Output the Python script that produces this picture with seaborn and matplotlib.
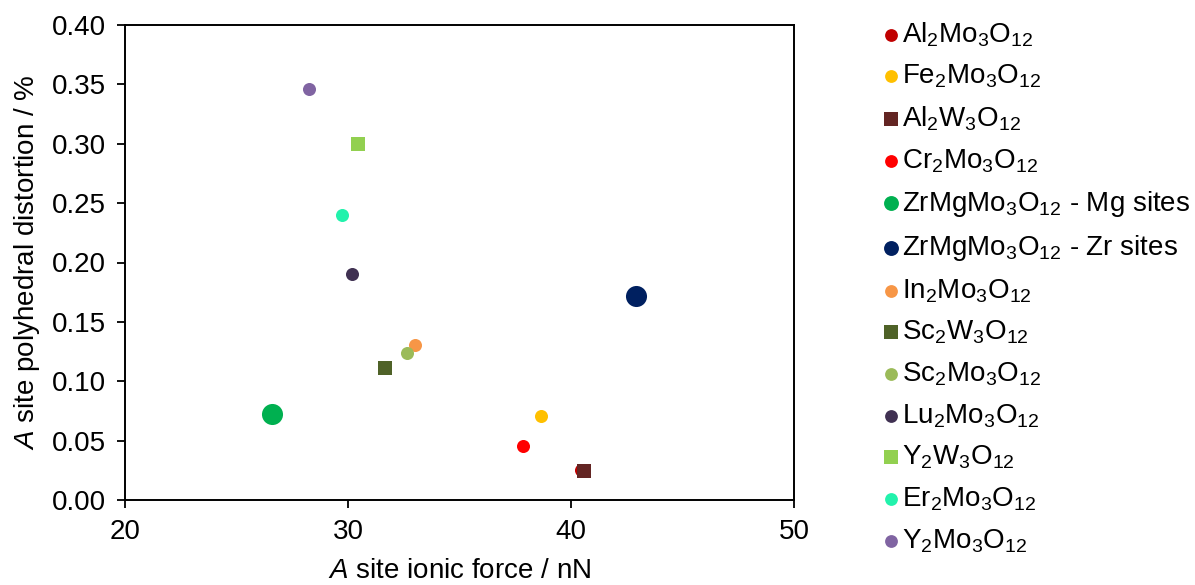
import matplotlib
matplotlib.use("Agg")
import matplotlib.pyplot as plt
import seaborn as sns
import pandas as pd

# Framework compounds and their A-site values
compounds = [
    "Al$_2$Mo$_3$O$_{12}$",
    "Fe$_2$Mo$_3$O$_{12}$",
    "Al$_2$W$_3$O$_{12}$",
    "Cr$_2$Mo$_3$O$_{12}$",
    "ZrMgMo$_3$O$_{12}$ - Mg sites",
    "ZrMgMo$_3$O$_{12}$ - Zr sites",
    "In$_2$Mo$_3$O$_{12}$",
    "Sc$_2$W$_3$O$_{12}$",
    "Sc$_2$Mo$_3$O$_{12}$",
    "Lu$_2$Mo$_3$O$_{12}$",
    "Y$_2$W$_3$O$_{12}$",
    "Er$_2$Mo$_3$O$_{12}$",
    "Y$_2$Mo$_3$O$_{12}$",
]
ionic_force = [40.45, 38.65, 40.57, 37.85, 26.6, 42.9, 33.0, 31.66, 32.65, 30.18, 30.45, 29.73, 28.25]
distortion = [0.0253, 0.0707, 0.0247, 0.0455, 0.0724, 0.1718, 0.1305, 0.111, 0.124, 0.190, 0.300, 0.240, 0.346]

colors = ["#C00000", "#FFC000", "#632523", "#FF0000", "#00B050", "#002060",
          "#F79646", "#4F6228", "#9BBB59", "#403152", "#92D050", "#22F2AC", "#8064A2"]
markers = ["o", "o", "s", "o", "o", "o", "o", "s", "o", "o", "s", "o", "o"]
sizes = [88, 88, 100, 88, 230, 230, 88, 100, 88, 88, 100, 88, 88]
legend_sizes = [85, 85, 100, 85, 115, 115, 85, 100, 85, 85, 100, 85, 85]

df = pd.DataFrame({"compound": compounds, "force": ionic_force, "distortion": distortion})

sns.set_style("white")
plt.rcParams["font.family"] = ["Liberation Sans", "DejaVu Sans"]
plt.rcParams["mathtext.fontset"] = "custom"
plt.rcParams["mathtext.rm"] = "Liberation Sans"
plt.rcParams["mathtext.it"] = "Liberation Sans:italic"
plt.rcParams["mathtext.default"] = "regular"
plt.rcParams["text.color"] = "black"
plt.rcParams["axes.labelcolor"] = "black"
plt.rcParams["xtick.color"] = "black"
plt.rcParams["ytick.color"] = "black"

fig = plt.figure(figsize=(11.95, 5.85), dpi=100)
ax = fig.add_axes([125 / 1195, 1 - 500 / 585, 669 / 1195, 475 / 585])

for i, row in df.iterrows():
    sns.scatterplot(x=[row["force"]], y=[row["distortion"]], ax=ax,
                    color=colors[i], marker=markers[i], s=sizes[i],
                    linewidth=0, label=row["compound"], legend=False)

ax.set_xlim(20, 50)
ax.set_ylim(0, 0.40)
ax.set_xticks([20, 30, 40, 50])
ax.set_yticks([0.0, 0.05, 0.10, 0.15, 0.20, 0.25, 0.30, 0.35, 0.40])
ax.set_yticklabels([f"{v:.2f}" for v in ax.get_yticks()])

for side in ["left", "right", "top", "bottom"]:
    ax.spines[side].set_visible(True)
    ax.spines[side].set_color("black")
    ax.spines[side].set_linewidth(1.4)

ax.tick_params(axis="both", direction="out", length=6, width=1.3, color="black",
               labelsize=20, pad=8, left=True, bottom=True)

ax.set_xlabel(r"$\mathit{A}$ site ionic force / nN", fontsize=20, labelpad=9)
ax.set_ylabel(r"$\mathit{A}$ site polyhedral distortion / %", fontsize=20, labelpad=7)

handles, labels = ax.get_legend_handles_labels()
leg = fig.legend(handles, labels, loc="upper left", bbox_to_anchor=(869 / 1195, 1 - 9 / 585),
                 frameon=False, fontsize=20, handletextpad=0.0, labelspacing=0.51,
                 handlelength=0.8, borderaxespad=0)
for h, sz in zip(leg.legend_handles, legend_sizes):
    h.set_sizes([sz])

fig.savefig("out.png", dpi=100)
